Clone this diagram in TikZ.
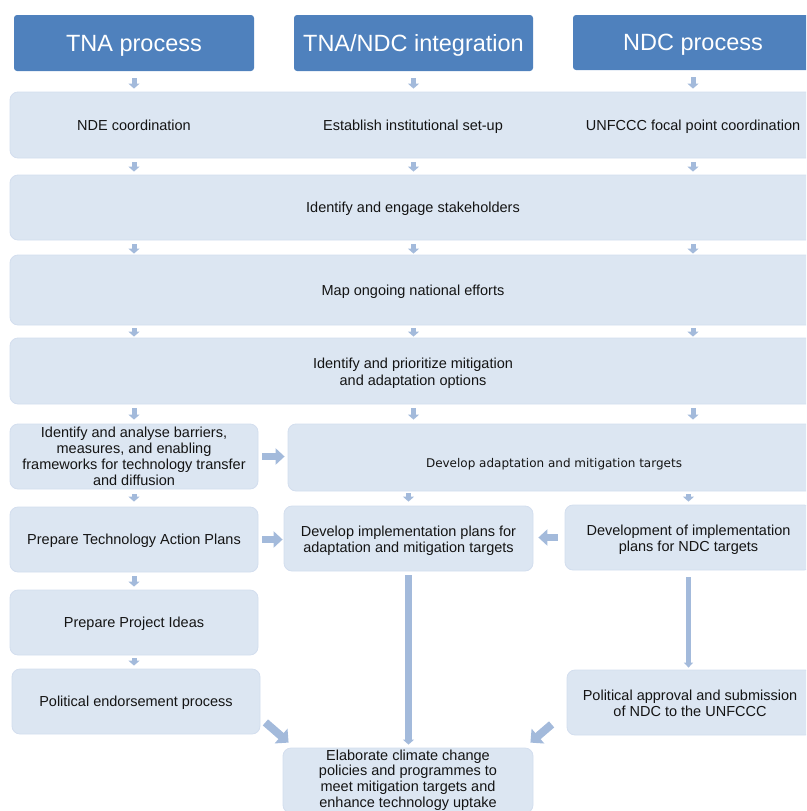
\documentclass[tikz,border=0pt]{standalone}
\usepackage{fontspec}
\setmainfont{Liberation Sans}
\newfontfamily\vfont{DejaVu Sans}
\usetikzlibrary{arrows.meta}
\definecolor{headc}{HTML}{4F81BD}
\definecolor{boxc}{HTML}{DCE6F2}
\definecolor{boxedge}{HTML}{D3DEEE}
\definecolor{arrc}{HTML}{A3BADB}
\definecolor{txtc}{HTML}{141414}
\tikzset{
  headbox/.style={fill=headc, rounded corners=3pt, text=white, inner sep=0pt,
    text height=16.8pt, text depth=0pt, font=\fontsize{23.5}{26}\selectfont},
  stepbox/.style={fill=boxc, draw=boxedge, line width=0.8pt, rounded corners=8pt, inner sep=0pt,
    text=txtc, align=center, font=\fontsize{14.5}{15.8}\selectfont},
  oneline/.style={text height=10.4pt, text depth=0pt},
  plain/.style={inner sep=0pt, text=txtc, align=center, font=\fontsize{14.5}{15.8}\selectfont},
  smallarrow/.style={draw=arrc, line width=5pt, -{Triangle[length=5pt,width=11pt]}},
  sidearrow/.style={draw=arrc, line width=7pt, -{Triangle[length=9pt,width=16pt]}},
  diagarrow/.style={draw=arrc, line width=8pt, -{Triangle[length=10pt,width=19pt]}},
  longarrow/.style={draw=arrc, line width=7pt, -{Triangle[length=5pt,width=11pt]}},
  longarrowb/.style={draw=arrc, line width=5pt, -{Triangle[length=5pt,width=9pt]}},
}
\begin{document}
\begin{tikzpicture}[x=1pt,y=-1pt]
\useasboundingbox (0,0) rectangle (806,811);
\clip (0,0) rectangle (806,811);
% headers
\node[headbox, minimum width=240pt, minimum height=56pt] (h1) at (134,43) {TNA process};
\node[headbox, minimum width=239pt, minimum height=56pt] (h2) at (413.5,43) {TNA/NDC integration};
\node[headbox, minimum width=240pt, minimum height=55pt] (h3) at (693,42.5) {NDC process};
% full-width rows
\node[stepbox, minimum width=806pt, minimum height=66pt] (r1) at (413,125) {};
\node[plain, oneline] (t1a) at (134,125) {NDE coordination};
\node[plain, oneline] (t1b) at (413,125) {Establish institutional set-up};
\node[plain, oneline] (t1c) at (693,125) {UNFCCC focal point coordination};
\node[stepbox, oneline, minimum width=806pt, minimum height=65pt] (r2) at (413,207.5) {Identify and engage stakeholders};
\node[stepbox, oneline, minimum width=806pt, minimum height=70pt] (r3) at (413,290) {Map ongoing national efforts};
\node[stepbox, minimum width=806pt, minimum height=66pt] (r4) at (413,371) {};
\node[plain, font=\fontsize{14.5}{17}\selectfont] (t4) at (413,373.5) {Identify and prioritize mitigation\\and adaptation options};
% row 5
\node[stepbox, minimum width=248pt, minimum height=65pt] (l5) at (134,456.5) {Identify and analyse barriers,\\measures, and enabling\\frameworks for technology transfer\\and diffusion};
\node[stepbox, minimum width=527pt, minimum height=67pt] (m5) at (551.5,457.5) {};
\node[inner sep=0pt, text=txtc, text height=8.8pt, text depth=0pt, font=\vfont\fontsize{12}{13}\selectfont] (t5) at (554,463) {Develop adaptation and mitigation targets};
% row 6
\node[stepbox, oneline, minimum width=248pt, minimum height=65pt] (l6) at (134,539.5) {Prepare Technology Action Plans};
\node[stepbox, minimum width=249pt, minimum height=65pt] (m6) at (408.5,538.5) {};
\node[plain] (t6m) at (408.5,541) {Develop implementation plans for\\adaptation and mitigation targets};
\node[stepbox, minimum width=247pt, minimum height=65pt] (r6) at (688.5,537.5) {};
\node[plain] (t6r) at (688.5,540) {Development of implementation\\plans for NDC targets};
% left column
\node[stepbox, oneline, minimum width=248pt, minimum height=65pt] (l7) at (134,622.5) {Prepare Project Ideas};
\node[stepbox, oneline, minimum width=248pt, minimum height=65pt] (l8) at (136,701.5) {Political endorsement process};
\node[stepbox, minimum width=246pt, minimum height=65pt] (r8) at (690,702.5) {};
\node[plain] (t8r) at (690,703.5) {Political approval and submission\\of NDC to the UNFCCC};
\node[stepbox, minimum width=250pt, minimum height=65pt] (b) at (408,780.5) {};
\node[plain] (tb) at (408,780) {Elaborate climate change\\policies and programmes to\\meet mitigation targets and\\enhance technology uptake};
% column arrows
\foreach \h in {h1,h2,h3}{
  \draw[smallarrow, shorten <=7pt, shorten >=3pt] (\h.south) -- (\h.south |- r1.north);
  \draw[smallarrow, shorten <=4pt, shorten >=3pt] (\h.south |- r1.south) -- (\h.south |- r2.north);
  \draw[smallarrow, shorten <=4pt, shorten >=1pt] (\h.south |- r2.south) -- (\h.south |- r3.north);
  \draw[smallarrow, shorten <=3pt, shorten >=1pt] (\h.south |- r3.south) -- (\h.south |- r4.north);
}
\draw[smallarrow, shorten <=4pt, shorten >=4pt] (h1.south |- r4.south) -- (l5.north);
\draw[smallarrow, shorten <=4pt, shorten >=4pt] (h2.south |- r4.south) -- (h2.south |- m5.north);
\draw[smallarrow, shorten <=4pt, shorten >=4pt] (h3.south |- r4.south) -- (h3.south |- m5.north);
\draw[smallarrow, shorten <=5pt, shorten >=5pt] (l5.south) -- (l6.north);
\draw[smallarrow, shorten <=2pt, shorten >=4pt] (m6.north |- m5.south) -- (m6.north);
\draw[smallarrow, shorten <=3pt, shorten >=3pt] (r6.north |- m5.south) -- (r6.north);
\draw[smallarrow, shorten <=4pt, shorten >=3pt] (l6.south) -- (l7.north);
\draw[smallarrow, shorten <=3pt, shorten >=3pt] (l7.south) -- (l7.south |- l8.north);
% side arrows
\draw[sidearrow, shorten <=4pt, shorten >=3pt] (l5.east) -- (l5.east -| m5.west);
\draw[sidearrow, shorten <=4pt, shorten >=1pt] (l6.east) -- (l6.east -| m6.west);
\draw[sidearrow, shorten <=7pt, shorten >=5pt] (r6.west) -- (r6.west -| m6.east);
% long arrows
\draw[longarrow, shorten <=4pt, shorten >=3pt] (m6.south) -- (m6.south |- b.north);
\draw[longarrowb, shorten <=7pt, shorten >=2pt] (r6.south) -- (r6.south |- r8.north);
% diagonal arrows
\draw[diagarrow] ([shift={(5,-12)}]l8.south east) -- ([shift={(6,-5)}]b.north west);
\draw[diagarrow] ([shift={(-15,-11)}]r8.south west) -- ([shift={(-3,-5)}]b.north east);
\end{tikzpicture}
\end{document}
